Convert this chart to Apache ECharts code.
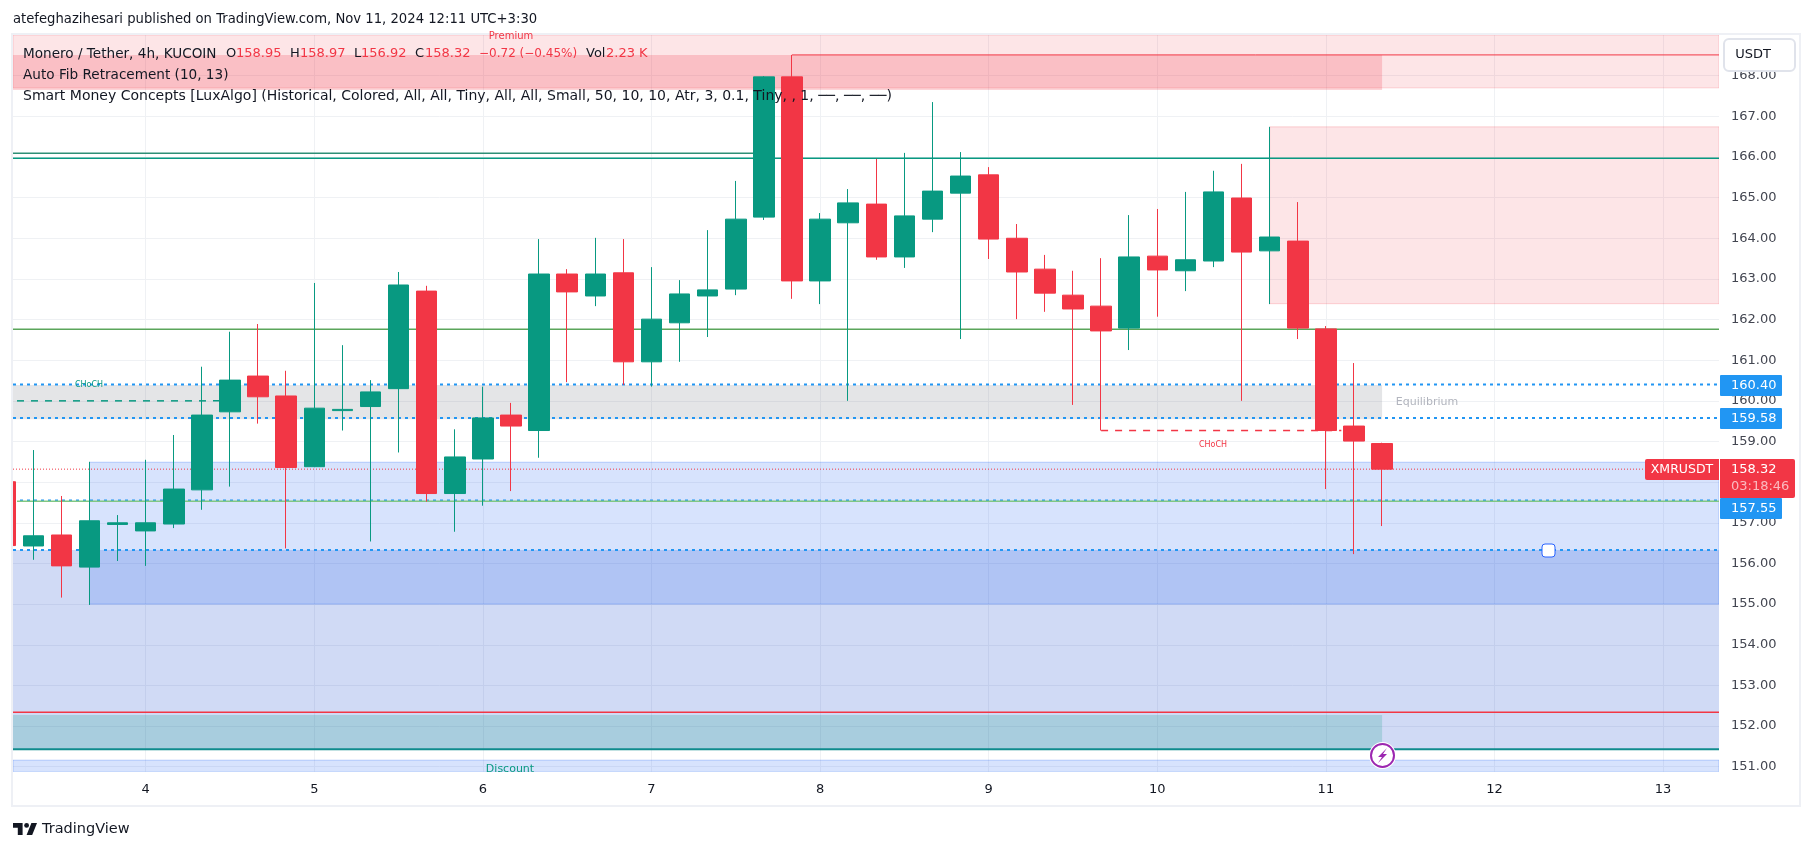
<!DOCTYPE html>
<html>
<head>
<meta charset="utf-8">
<title>XMRUSDT</title>
<style>
html, body { margin: 0; padding: 0; background: #fff; }
#chart_dom { width: 1814px; height: 851px; }
</style>
<script src="https://cdn.jsdelivr.net/npm/echarts@6/dist/echarts.min.js"></script>
</head>
<body>
<div id="chart_dom"></div>
<script>
// candle slot on the x axis = 4h bar, slot 5 is the 4th at 00:00
const candleSlots = [...Array(50).keys()];
// [open, close, low, high]
const candles = [
  [158.01, 156.44, 156.30, 158.10], [156.43, 156.68, 156.09, 158.79], [156.70, 155.94, 155.16, 157.66],
  [155.91, 157.05, 154.98, 158.50], [156.96, 157.00, 156.06, 157.19], [156.80, 157.00, 155.94, 158.55],
  [156.97, 157.83, 156.87, 159.16], [157.81, 159.65, 157.32, 160.84], [159.73, 160.51, 157.89, 161.70],
  [160.61, 160.10, 159.44, 161.89], [160.12, 158.36, 156.37, 160.74], [158.38, 159.82, 158.37, 162.90],
  [159.76, 159.79, 159.27, 161.37], [159.86, 160.22, 156.54, 160.51], [160.30, 162.85, 158.73, 163.17],
  [162.70, 157.72, 157.52, 162.83], [157.72, 158.62, 156.78, 159.30], [158.57, 159.58, 157.42, 160.35],
  [159.65, 159.38, 157.78, 159.95], [159.27, 163.12, 158.60, 163.98], [163.12, 162.68, 160.46, 163.24],
  [162.58, 163.12, 162.33, 164.01], [163.15, 160.96, 160.39, 163.98], [160.96, 162.01, 160.35, 163.29],
  [161.92, 162.63, 160.96, 162.97], [162.58, 162.73, 161.57, 164.20], [162.75, 164.47, 162.60, 165.41],
  [164.52, 167.97, 164.45, 167.99], [167.97, 162.95, 162.51, 168.51], [162.95, 164.47, 162.38, 164.62],
  [164.38, 164.87, 160.00, 165.21], [164.84, 163.54, 163.47, 165.95], [163.54, 164.55, 163.27, 166.10],
  [164.47, 165.16, 164.15, 167.35], [165.11, 165.53, 161.52, 166.12], [165.56, 163.98, 163.49, 165.75],
  [164.00, 163.17, 162.01, 164.35], [163.24, 162.65, 162.19, 163.59], [162.60, 162.26, 159.90, 163.20],
  [162.33, 161.72, 159.27, 163.51], [161.79, 163.54, 161.25, 164.57], [163.56, 163.22, 162.07, 164.72],
  [163.20, 163.47, 162.70, 165.14], [163.44, 165.14, 163.29, 165.66], [164.99, 163.66, 160.00, 165.83],
  [163.69, 164.03, 162.38, 166.74], [163.93, 161.79, 161.52, 164.89], [161.77, 159.27, 157.83, 161.84],
  [159.38, 159.01, 156.23, 160.93], [158.95, 158.32, 156.92, 158.97]
];
const dayLabels = ["4", "5", "6", "7", "8", "9", "10", "11", "12", "13"];
const daySlots = [5, 11, 17, 23, 29, 35, 41, 47, 53, 59];
const priceTicks = [151, 152, 153, 154, 155, 156, 157, 158, 159, 160, 161, 162, 163, 164, 165, 166, 167, 168];

// visible window of the axes
const slotMin = 0.278;
const slotMax = 60.99;
const priceMin = 150.877;
const priceMax = 169;

// zones: [from slot, to slot, low price, high price]
const premiumZone = [slotMin, slotMax, 167.70, priceMax];
const premiumBlock = [slotMin, 49, 167.65, 168.51];
const supplyZone = [45, slotMax, 162.39, 166.74];
const equilibriumZone = [slotMin, 49, 159.55, 160.39];
const demandZone = [3, slotMax, 155.00, 158.49];
const discountZone = [slotMin, slotMax, 151.43, 156.33];
const discountBlock = [slotMin, 49, 151.43, 152.27];
const bottomZone = [slotMin, slotMax, priceMin, 151.16];

// horizontal levels: [from slot, to slot, price]
const levelRed = [28, slotMax, 168.51];
const levelTealOld = [slotMin, 27, 166.09];
const levelTeal = [slotMin, slotMax, 165.97];
const levelGreen = [slotMin, slotMax, 161.76];
const levelEq = [slotMin, slotMax, 152.34];
const levelBottom = [slotMin, slotMax, 151.43];
const levelFib = [0.42, slotMax, 157.53];
const dottedBlue = [160.40, 159.58, 157.55, 156.33];
const lastPrice = 158.32;
const chochGreen = [0.42, 7.64, 160.00];
const chochRed = [39, 47.55, 159.27];

const priceTags = [160.40, 159.58, 157.55];
// the last tag is pushed down by the red last price tag
const priceTagShift = [0, 0, 8];

// legend row 1: [text, is red]
const legendTokens = [
  ["Monero / Tether, 4h, KUCOIN", false], ["O", false], ["158.95", true], ["H", false], ["158.97", true],
  ["L", false], ["156.92", true], ["C", false], ["158.32", true], ["−0.72 (−0.45%)", true], ["Vol", false], ["2.23 K", true]
];
const legendTokenX = [23, 226, 236, 290, 300, 354, 361, 415, 425, 479, 586, 606];
const legendTokenSize = [13.6, 13, 13, 13, 13, 13, 13, 13, 13, 12, 13, 13];

const GREEN = "#089981";
const RED = "#f23645";
const BLUE = "#2196f3";
const FONT = "DejaVu Sans";

function zoneSeries(name, zone, fill, border) {
  return {
    name: name,
    type: "custom",
    z: 1,
    silent: true,
    clip: true,
    data: [zone],
    encode: { x: [0, 1], y: [2, 3] },
    renderItem: function (params, api) {
      const a = api.coord([api.value(0), api.value(3)]);
      const b = api.coord([api.value(1), api.value(2)]);
      return {
        type: "rect",
        shape: { x: a[0], y: a[1], width: b[0] - a[0], height: b[1] - a[1] },
        style: { fill: fill, stroke: border || null, lineWidth: 1 }
      };
    }
  };
}

function lineSeries(name, from, to, price, color, width, type, z) {
  return {
    name: name,
    type: "line",
    z: z || 2,
    silent: true,
    showSymbol: false,
    animation: false,
    data: [[from, price], [to, price]],
    lineStyle: { color: color, width: width, type: type || "solid" }
  };
}

const chart = echarts.init(document.getElementById("chart_dom"));

const option = {
  animation: false,
  backgroundColor: "#fff",
  textStyle: { fontFamily: FONT },
  grid: { left: 13, top: 35, width: 1706, height: 736.7 },
  xAxis: {
    type: "value",
    min: slotMin,
    max: slotMax,
    axisLine: { show: false },
    axisTick: { show: false, customValues: daySlots },
    splitLine: { show: true, lineStyle: { color: "#eff1f4", width: 1 } },
    axisLabel: {
      customValues: daySlots,
      color: "#131722",
      fontSize: 13,
      margin: 11,
      formatter: function (v) { return dayLabels[daySlots.indexOf(v)]; }
    }
  },
  yAxis: {
    type: "value",
    position: "right",
    min: priceMin,
    max: priceMax,
    axisLine: { show: false },
    axisTick: { show: false, customValues: priceTicks },
    splitLine: { show: true, lineStyle: { color: "#eff1f4", width: 1 } },
    axisLabel: {
      customValues: priceTicks,
      color: "#434651",
      fontSize: 13,
      margin: 12,
      padding: [2, 0, 0, 0],
      formatter: function (v) { return v.toFixed(2); }
    }
  },
  series: [
    zoneSeries("premium", premiumZone, "rgba(242,54,69,0.13)", "rgba(242,54,69,0.2)"),
    zoneSeries("premium block", premiumBlock, "rgba(242,54,69,0.21)"),
    zoneSeries("supply", supplyZone, "rgba(242,54,69,0.13)", "rgba(242,54,69,0.2)"),
    zoneSeries("equilibrium", equilibriumZone, "rgba(120,123,134,0.2)"),
    zoneSeries("discount", discountZone, "rgba(20,70,205,0.2)"),
    zoneSeries("demand", demandZone, "rgba(33,100,243,0.18)", "rgba(33,100,243,0.28)"),
    zoneSeries("discount block", discountBlock, "rgba(8,153,129,0.2)"),
    zoneSeries("bottom", bottomZone, "rgba(33,100,243,0.18)", "rgba(33,100,243,0.28)"),

    lineSeries("level old", levelTealOld[0], levelTealOld[1], levelTealOld[2], "#2e8f76", 1.5),
    lineSeries("level teal", levelTeal[0], levelTeal[1], levelTeal[2], GREEN, 1.5),
    lineSeries("level green", levelGreen[0], levelGreen[1], levelGreen[2], "#5aa55a", 1.5),
    lineSeries("level eq", levelEq[0], levelEq[1], levelEq[2], "#f23645", 1.5),
    lineSeries("level bottom", levelBottom[0], levelBottom[1], levelBottom[2], "#0f8b8d", 2),
    lineSeries("level red", levelRed[0], levelRed[1], levelRed[2], RED, 1),
    lineSeries("choch green", chochGreen[0], chochGreen[1], chochGreen[2], GREEN, 1.5, [7, 7]),
    lineSeries("choch red", chochRed[0], chochRed[1], chochRed[2], RED, 1.5, [7, 7]),
    lineSeries("last price", slotMin, slotMax, lastPrice, RED, 1, [1, 2]),
    ...dottedBlue.map((p) => lineSeries("dotted " + p, slotMin, slotMax, p, BLUE, 2, [3, 4], 3)),
    lineSeries("level fib", levelFib[0], levelFib[1], levelFib[2], "#81c784", 1.5, "solid", 3.5),
    {
      name: "XMRUSDT",
      type: "candlestick",
      z: 4,
      barWidth: 21,
      clip: true,
      data: candles.map((c, i) => [candleSlots[i], c[0], c[1], c[2], c[3]]),
      itemStyle: {
        color: GREEN,
        color0: RED,
        borderColor: GREEN,
        borderColor0: RED,
        borderWidth: 1
      }
    },
    {
      // blue price tags on the axis
      name: "tags",
      type: "custom",
      z: 6,
      silent: true,
      clip: false,
      data: priceTags.map((p, i) => [slotMax, p, priceTagShift[i]]),
      renderItem: function (params, api) {
        const p = api.coord([api.value(0), api.value(1)]);
        const mid = Math.round(p[1]) + api.value(2);
        return {
          type: "group",
          children: [
            { type: "rect", shape: { x: p[0] + 1, y: mid - 10, width: 62, height: 21, r: 1 }, style: { fill: BLUE } },
            {
              type: "text",
              style: {
                x: p[0] + 12, y: mid + 1, text: api.value(1).toFixed(2),
                fill: "#fff", font: "13px '" + FONT + "'", verticalAlign: "middle"
              }
            }
          ]
        };
      }
    }
  ],
  graphic: [
    // white margin left of the plot hides the part of the first candle outside it
    { type: "rect", z: 19, silent: true, shape: { x: 0, y: 34, width: 12, height: 772 }, style: { fill: "#fff" } },
    { type: "rect", z: 19, silent: true, shape: { x: 12, y: 34, width: 1788, height: 772 }, style: { fill: "none", stroke: "#eef0f5", lineWidth: 2 } },

    { type: "text", z: 20, style: { x: 13, y: 20, text: "atefeghazihesari published on TradingView.com, Nov 11, 2024 12:11 UTC+3:30", fill: "#131722", font: "13.2px '" + FONT + "'", verticalAlign: "middle" } },

    ...legendTokens.map((t, i) => ({
      type: "text", z: 20,
      style: {
        x: legendTokenX[i], y: 54, verticalAlign: "middle", text: t[0],
        fill: t[1] ? RED : "#131722",
        font: legendTokenSize[i] + "px '" + FONT + "'"
      }
    })),
    { type: "text", z: 20, style: { x: 23, y: 75, text: "Auto Fib Retracement (10, 13)", fill: "#131722", font: "13.6px '" + FONT + "'", verticalAlign: "middle" } },
    { type: "text", z: 20, style: { x: 23, y: 96, text: "Smart Money Concepts [LuxAlgo] (Historical, Colored, All, All, Tiny, All, All, Small, 50, 10, 10, Atr, 3, 0.1, Tiny, , 1, ──, ──, ──)", fill: "#131722", font: "14px '" + FONT + "'", verticalAlign: "middle" } },

    { type: "text", z: 20, style: { x: 511, y: 36, text: "Premium", fill: RED, font: "10px '" + FONT + "'", align: "center", verticalAlign: "middle" } },
    { type: "text", z: 20, style: { x: 510, y: 769, text: "Discount", fill: GREEN, font: "11px '" + FONT + "'", align: "center", verticalAlign: "middle" } },
    { type: "rect", z: 21, silent: true, shape: { x: 470, y: 772, width: 80, height: 10 }, style: { fill: "#fff" } },
    { type: "text", z: 20, style: { x: 1427, y: 402, text: "Equilibrium", fill: "#b2b5be", font: "11px '" + FONT + "'", align: "center", verticalAlign: "middle" } },
    { type: "text", z: 20, style: { x: 89, y: 385, text: "CHoCH", fill: GREEN, font: "8px '" + FONT + "'", align: "center", verticalAlign: "middle" } },
    { type: "text", z: 20, style: { x: 1213, y: 445, text: "CHoCH", fill: RED, font: "8px '" + FONT + "'", align: "center", verticalAlign: "middle" } },

    // USDT button
    { type: "rect", z: 20, shape: { x: 1724, y: 39, width: 71, height: 32, r: 5 }, style: { fill: "#fff", stroke: "#e0e3eb", lineWidth: 2 } },
    { type: "text", z: 21, style: { x: 1753, y: 55, text: "USDT", fill: "#131722", font: "13px '" + FONT + "'", align: "center", verticalAlign: "middle" } },

    // last price tag
    { type: "rect", z: 20, shape: { x: 1645, y: 459, width: 74, height: 21, r: [2, 0, 0, 2] }, style: { fill: RED } },
    { type: "text", z: 21, style: { x: 1682, y: 470, text: "XMRUSDT", fill: "#fff", font: "12.5px '" + FONT + "'", align: "center", verticalAlign: "middle" } },
    { type: "rect", z: 20, shape: { x: 1720, y: 459, width: 75, height: 39, r: [0, 2, 2, 0] }, style: { fill: RED } },
    { type: "text", z: 21, style: { x: 1731, y: 470, text: "158.32", fill: "#fff", font: "13px '" + FONT + "'", verticalAlign: "middle" } },
    { type: "text", z: 21, style: { x: 1731, y: 487, text: "03:18:46", fill: "rgba(255,255,255,0.65)", font: "13px '" + FONT + "'", verticalAlign: "middle" } },

    // handle on the dotted line and the lightning badge
    { type: "rect", z: 20, shape: { x: 1542, y: 544, width: 13, height: 13, r: 3 }, style: { fill: "#fff", stroke: "#2962ff", lineWidth: 1 } },
    { type: "circle", z: 20, shape: { cx: 1382.5, cy: 755.5, r: 12.5 }, style: { fill: "#fff", stroke: "#fff", lineWidth: 2 } },
    { type: "circle", z: 20, shape: { cx: 1382.5, cy: 755.5, r: 11.5 }, style: { fill: "#fff", stroke: "#9c27b0", lineWidth: 2 } },
    { type: "polygon", z: 21, shape: { points: [[1387, 748], [1378, 757], [1382, 757], [1378, 763], [1387, 754], [1383, 754]] }, style: { fill: "#9c27b0" } },

    // TradingView logo
    {
      type: "group", x: 11.4, y: 818.2, scaleX: 0.8, scaleY: 0.8,
      children: [
        { type: "polygon", z: 20, shape: { points: [[2, 6], [14, 6], [14, 21], [8, 21], [8, 12], [2, 12]] }, style: { fill: "#131722" } },
        { type: "polygon", z: 20, shape: { points: [[26, 21], [19, 21], [25, 6], [32, 6]] }, style: { fill: "#131722" } },
        { type: "circle", z: 20, shape: { cx: 19, cy: 9, r: 3 }, style: { fill: "#131722" } }
      ]
    },
    { type: "text", z: 20, style: { x: 42, y: 829, text: "TradingView", fill: "#131722", font: "14.5px '" + FONT + "'", verticalAlign: "middle" } }
  ]
};

chart.setOption(option);
</script>
</body>
</html>
